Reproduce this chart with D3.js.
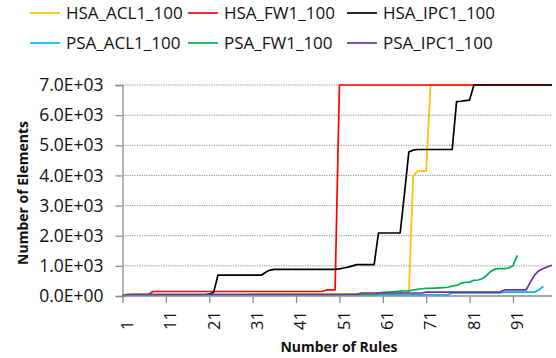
<!DOCTYPE html>
<html>
<head>
<meta charset="utf-8">
<script src="https://cdn.jsdelivr.net/npm/d3@7"></script>
<style>
  body { margin: 0; background: #fff; }
  text { font-family: "Open Sans", sans-serif; fill: #111; }
</style>
</head>
<body>
<svg width="556" height="358"></svg>
<script>
// rule counts 1..100
const categories = [
  1, 2, 3, 4, 5, 6, 7, 8, 9, 10, 11, 12, 13, 14, 15, 16, 17, 18, 19, 20,
  21, 22, 23, 24, 25, 26, 27, 28, 29, 30, 31, 32, 33, 34, 35, 36, 37, 38, 39, 40,
  41, 42, 43, 44, 45, 46, 47, 48, 49, 50, 51, 52, 53, 54, 55, 56, 57, 58, 59, 60,
  61, 62, 63, 64, 65, 66, 67, 68, 69, 70, 71, 72, 73, 74, 75, 76, 77, 78, 79, 80,
  81, 82, 83, 84, 85, 86, 87, 88, 89, 90, 91, 92, 93, 94, 95, 96, 97, 98, 99, 100
];
const xTickLabels = [1, 11, 21, 31, 41, 51, 61, 71, 81, 91];
const yTicks = [0, 1000, 2000, 3000, 4000, 5000, 6000, 7000];
const yTickLabels = ["0.0E+00", "1.0E+03", "2.0E+03", "3.0E+03", "4.0E+03", "5.0E+03", "6.0E+03", "7.0E+03"];

const seriesNames = ["HSA_ACL1_100", "HSA_FW1_100", "HSA_IPC1_100", "PSA_ACL1_100", "PSA_FW1_100", "PSA_IPC1_100"];
const seriesColors = ["#ffc000", "#ff0000", "#000000", "#00b0f0", "#00b050", "#7030a0"];

const hsaAcl1 = [
  0, 30, 40, 50, 50, 50, 50, 50, 50, 50,
  50, 50, 50, 50, 50, 50, 50, 50, 50, 50,
  50, 50, 50, 50, 50, 50, 50, 50, 50, 50,
  60, 60, 60, 60, 60, 60, 60, 60, 60, 60,
  60, 60, 60, 60, 60, 60, 60, 60, 60, 60,
  70, 70, 70, 70, 70, 70, 70, 70, 70, 70,
  80, 80, 80, 80, 80, 80, 130, 3970, 4140, 4140,
  4150, 7000, 7000, 7000, 7000, 7000, 7000, 7000, 7000, 7000,
  7000, 7000, 7000, 7000, 7000, 7000, 7000, 7000, 7000, 7000,
  7000, 7000, 7000, 7000, 7000, 7000, 7000, 7000, 7000, 7000
];
const hsaFw1 = [
  20, 50, 50, 50, 50, 50, 50, 150, 150, 150,
  150, 150, 150, 150, 150, 150, 150, 150, 150, 150,
  150, 150, 150, 150, 150, 150, 150, 150, 150, 150,
  150, 150, 150, 150, 150, 150, 150, 150, 150, 150,
  150, 150, 150, 150, 150, 150, 150, 200, 200, 200,
  7000, 7000, 7000, 7000, 7000, 7000, 7000, 7000, 7000, 7000,
  7000, 7000, 7000, 7000, 7000, 7000, 7000, 7000, 7000, 7000,
  7000, 7000, 7000, 7000, 7000, 7000, 7000, 7000, 7000, 7000,
  7000, 7000, 7000, 7000, 7000, 7000, 7000, 7000, 7000, 7000,
  7000, 7000, 7000, 7000, 7000, 7000, 7000, 7000, 7000, 7000
];
const hsaIpc1 = [
  0, 30, 30, 30, 30, 30, 30, 30, 30, 30,
  30, 30, 30, 30, 30, 30, 30, 30, 30, 40,
  60, 120, 690, 690, 690, 690, 690, 690, 690, 690,
  690, 690, 690, 790, 860, 885, 885, 885, 885, 885,
  885, 885, 885, 885, 885, 885, 885, 885, 885, 885,
  900, 930, 960, 1000, 1040, 1040, 1040, 1040, 1040, 2090,
  2090, 2090, 2090, 2090, 2090, 3400, 4780, 4840, 4860, 4860,
  4860, 4860, 4860, 4860, 4860, 4860, 4860, 6450, 6460, 6480,
  6500, 7000, 7000, 7000, 7000, 7000, 7000, 7000, 7000, 7000,
  7000, 7000, 7000, 7000, 7000, 7000, 7000, 7000, 7000, 7000
];
const psaAcl1 = [
  0, 40, 40, 40, 40, 40, 40, 40, 40, 40,
  40, 40, 40, 40, 40, 40, 40, 40, 40, 40,
  40, 40, 40, 40, 40, 40, 40, 40, 40, 40,
  40, 40, 40, 40, 40, 40, 40, 40, 40, 40,
  40, 40, 40, 40, 40, 40, 40, 40, 40, 40,
  40, 40, 40, 40, 40, 40, 40, 40, 40, 40,
  40, 40, 40, 40, 40, 40, 40, 40, 40, 40,
  40, 40, 40, 40, 40, 40, 100, 100, 100, 100,
  100, 100, 100, 100, 100, 100, 100, 100, 130, 130,
  130, 130, 130, 130, 130, 130, 200, 320, null, null
];
const psaFw1 = [
  0, 50, 50, 50, 50, 50, 50, 50, 50, 50,
  50, 50, 50, 50, 50, 50, 50, 50, 50, 50,
  50, 50, 50, 50, 50, 50, 50, 50, 50, 50,
  50, 50, 50, 50, 50, 50, 50, 50, 50, 50,
  50, 50, 50, 50, 50, 50, 50, 50, 50, 50,
  50, 50, 50, 50, 50, 50, 50, 50, 50, 100,
  120, 130, 140, 150, 160, 166, 170, 200, 220, 240,
  250, 250, 260, 270, 280, 290, 330, 350, 420, 450,
  460, 520, 530, 580, 690, 830, 900, 910, 910, 930,
  1000, 1350, null, null, null, null, null, null, null, null
];
const psaIpc1 = [
  0, 30, 50, 50, 50, 50, 50, 50, 50, 50,
  50, 50, 50, 50, 50, 50, 50, 50, 50, 50,
  50, 50, 50, 50, 50, 50, 50, 50, 50, 50,
  50, 50, 50, 50, 50, 50, 50, 50, 50, 50,
  50, 50, 50, 50, 50, 50, 50, 50, 50, 50,
  50, 50, 50, 50, 50, 100, 100, 100, 100, 100,
  100, 100, 100, 100, 100, 100, 100, 100, 100, 100,
  130, 130, 130, 130, 130, 130, 130, 130, 130, 130,
  130, 130, 130, 130, 130, 130, 130, 130, 200, 200,
  200, 200, 200, 200, 450, 700, 840, 910, 970, 1020
];

const seriesValues = [hsaAcl1, hsaFw1, hsaIpc1, psaAcl1, psaFw1, psaIpc1];

const svg = d3.select("svg");
const margin = { top: 85, right: 4, bottom: 62, left: 122.5 };
const width = +svg.attr("width");
const height = +svg.attr("height");

const x = d3.scalePoint()
  .domain(categories)
  .range([margin.left, width - margin.right]);

const y = d3.scaleLinear()
  .domain([0, 7000])
  .range([height - margin.bottom, margin.top]);

// gridlines
svg.append("g")
  .selectAll("line")
  .data(yTicks.slice(1))
  .enter().append("line")
  .attr("x1", margin.left)
  .attr("x2", width - margin.right)
  .attr("y1", d => y(d))
  .attr("y2", d => y(d))
  .attr("stroke", "#8c8c8c")
  .attr("stroke-width", 1)
  .attr("stroke-dasharray", "1.2,1.2");

// y axis
const yAxis = svg.append("g")
  .attr("transform", "translate(" + margin.left + ",0)")
  .call(d3.axisLeft(y)
    .tickValues(yTicks)
    .tickSize(7)
    .tickPadding(12)
    .tickFormat((d, i) => yTickLabels[i]));
yAxis.select(".domain").attr("stroke", "#8c8c8c").attr("stroke-width", 1.3);
yAxis.selectAll(".tick line").attr("stroke", "#8c8c8c").attr("stroke-width", 1.3);
yAxis.selectAll(".tick text")
  .attr("fill", "#111")
  .style("font-size", "17.5px");

// lines
const line = d3.line()
  .defined(d => d != null)
  .x((d, i) => x(categories[i]))
  .y(d => y(d));

svg.append("g")
  .selectAll("path")
  .data(seriesValues)
  .enter().append("path")
  .attr("d", d => line(d))
  .attr("fill", "none")
  .attr("stroke", (d, i) => seriesColors[i])
  .attr("stroke-width", 1.7)
  .attr("stroke-linejoin", "round");

// x axis
const xAxis = svg.append("g")
  .attr("transform", "translate(0," + y(0) + ")")
  .call(d3.axisBottom(x)
    .tickValues(xTickLabels)
    .tickSize(7)
    .tickSizeOuter(0));
xAxis.select(".domain")
  .attr("stroke", "#8c8c8c")
  .attr("stroke-width", 1.3)
  .attr("d", "M" + margin.left + ",0H" + (width - margin.right));
xAxis.selectAll(".tick line").attr("stroke", "#8c8c8c").attr("stroke-width", 1.3);
xAxis.selectAll(".tick text")
  .attr("fill", "#111")
  .style("font-size", "16.5px")
  .attr("text-anchor", "start")
  .attr("dy", "0.35em")
  .attr("transform", "translate(4,34) rotate(-90)")
  .attr("x", 0)
  .attr("y", 0);

// axis titles
svg.append("text")
  .attr("transform", "translate(28,193) rotate(-90)")
  .attr("text-anchor", "middle")
  .style("font-size", "14px")
  .style("font-weight", "bold")
  .text("Number of Elements");

svg.append("text")
  .attr("x", 339)
  .attr("y", 352)
  .attr("text-anchor", "middle")
  .style("font-size", "14px")
  .style("font-weight", "bold")
  .text("Number of Rules");

// legend
const legendX = [30, 188, 347];
const legendY = [13, 43];
const legend = svg.append("g")
  .selectAll("g")
  .data(seriesNames)
  .enter().append("g")
  .attr("transform", (d, i) => "translate(" + legendX[i % 3] + "," + legendY[Math.floor(i / 3)] + ")");

legend.append("line")
  .attr("x1", 0)
  .attr("x2", 30)
  .attr("stroke", (d, i) => seriesColors[i])
  .attr("stroke-width", 1.7);

legend.append("text")
  .attr("x", 36)
  .attr("dy", "0.35em")
  .style("font-size", "17px")
  .text(d => d);
</script>
</body>
</html>
